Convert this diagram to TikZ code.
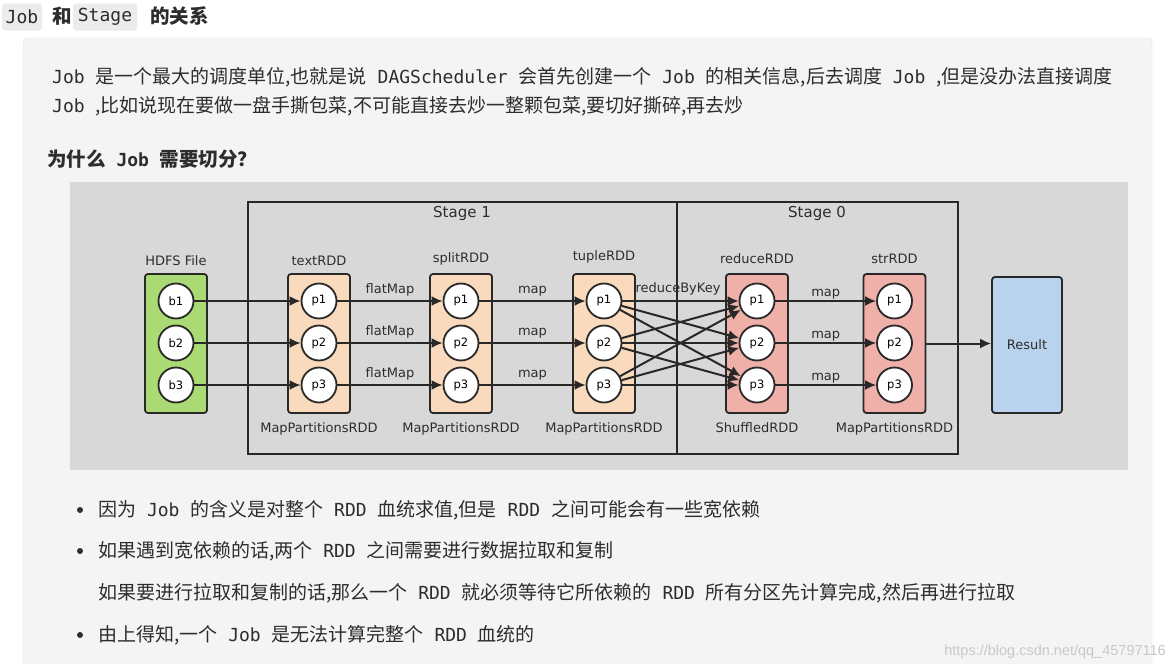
\documentclass[tikz,border=0pt]{standalone}
\usepackage{fontspec}
\usepackage{xcolor}
\usetikzlibrary{arrows.meta,positioning}
\newfontfamily\cjk{Noto Sans CJK SC}
\newfontfamily\codefont{DejaVu Sans Mono}
\newfontfamily\figfont{DejaVu Sans}
\newfontfamily\wmfont{Liberation Sans}
\newcommand\cd[1]{{\codefont\fontsize{18}{18}\selectfont\ #1\ }}
\newcommand\cdhead[1]{{\codefont\fontsize{18}{18}\selectfont #1\ }}
\definecolor{pagegray}{RGB}{244,244,244}
\definecolor{panelline}{RGB}{222,222,222}
\definecolor{chipgray}{RGB}{236,236,236}
\definecolor{textgray}{RGB}{45,45,45}
\definecolor{diagray}{RGB}{216,216,216}
\definecolor{linegray}{RGB}{40,40,40}
\definecolor{hdfsgreen}{RGB}{170,218,116}
\definecolor{mapsalmon}{RGB}{250,218,188}
\definecolor{shufflered}{RGB}{238,176,168}
\definecolor{resultblue}{RGB}{185,210,238}
\definecolor{wmgray}{RGB}{200,200,200}

\begin{document}
\begin{tikzpicture}[x=1pt,y=-1pt,
  txt/.style={anchor=base west,inner sep=0pt,text=textgray,font=\cjk\fontsize{19}{19}\selectfont},
  boldtxt/.style={txt,font=\cjk\bfseries\fontsize{19.5}{19.5}\selectfont},
  chip/.style={fill=chipgray,rounded corners=3pt,inner sep=3pt,minimum height=27pt,font=\codefont\fontsize{18}{18}\selectfont,text=textgray},
  dot/.style={circle,fill=textgray,inner sep=0pt,minimum size=6pt},
  rddbox/.style={draw=linegray,line width=1.8pt,rounded corners=3pt,minimum width=62pt,minimum height=139pt},
  part/.style={circle,draw=linegray,line width=1.8pt,fill=white,minimum size=35pt,inner sep=0pt,font=\figfont\fontsize{11.5}{11.5}\selectfont},
  lbl/.style={text=textgray,font=\figfont\fontsize{13}{13}\selectfont},
  flow/.style={draw=linegray,line width=2pt,-{Latex[length=11pt,width=10pt]}}]
  % page and panel
  \fill[white](0,0)rectangle(1176,664);
  \useasboundingbox(0,0)rectangle(1176,664);
  \draw[panelline,fill=pagegray,rounded corners=4pt](23,38)rectangle(1152,690);
  % title
  \node[chip,minimum width=40pt] (tjob) at (22,17) {Job};
  \node[boldtxt] (tand) at (52,23) {和};
  \node[chip,minimum width=64pt] (tstage) at (105,17) {Stage};
  \node[boldtxt] (trel) at (150,23) {的关系};
  % paragraph
  \node[txt] (para1) at (52,83) {\cdhead{Job}是一个最大的调度单位,也就是说\cd{DAGScheduler}会首先创建一个\cd{Job}的相关信息,后去调度\cd{Job},但是没办法直接调度};
  \node[txt] (para2) at (52,112) {\cdhead{Job},比如说现在要做一盘手撕包菜,不可能直接去炒一整颗包菜,要切好撕碎,再去炒};
  \node[boldtxt] (why) at (47,166) {为什么\cd{Job}需要切分？};

  % diagram
  \fill[diagray](70,182)rectangle(1128,470);
  \draw[linegray,line width=2pt](248,202)rectangle(958,454);
  \draw[linegray,line width=2pt](677,202)--(677,454);
  \node[lbl,font=\figfont\fontsize{15}{15}\selectfont] (stage1) at (462,213) {Stage 1};
  \node[lbl,font=\figfont\fontsize{15}{15}\selectfont] (stage0) at (817,213) {Stage 0};

  \node[rddbox,fill=hdfsgreen] (hdfs) at (176,343.5) {};
  \node[rddbox,fill=mapsalmon] (textbox) at (319,343.5) {};
  \node[rddbox,fill=mapsalmon] (splitbox) at (461,343.5) {};
  \node[rddbox,fill=mapsalmon] (tuplebox) at (604,343.5) {};
  \node[rddbox,fill=shufflered] (reducebox) at (757,343.5) {};
  \node[rddbox,fill=shufflered] (strbox) at (894.5,343.5) {};
  \node[draw=linegray,line width=1.8pt,rounded corners=3pt,fill=resultblue,minimum width=70pt,minimum height=136pt,lbl] (result) at (1027,345) {Result};

  \node[lbl,above=4pt of hdfs] (hdfsname) {HDFS File};
  \node[lbl,above=4pt of textbox] (textname) {textRDD};
  \node[lbl,above=4pt of splitbox] (splitname) {splitRDD};
  \node[lbl,above=6pt of tuplebox] (tuplename) {tupleRDD};
  \node[lbl,above=6pt of reducebox] (reducename) {reduceRDD};
  \node[lbl,above=6pt of strbox] (strname) {strRDD};
  \node[lbl,below=5pt of textbox] (texttype) {MapPartitionsRDD};
  \node[lbl,below=5pt of splitbox] (splittype) {MapPartitionsRDD};
  \node[lbl,below=5pt of tuplebox] (tupletype) {MapPartitionsRDD};
  \node[lbl,below=5pt of reducebox] (reducetype) {ShuffledRDD};
  \node[lbl,below=5pt of strbox] (strtype) {MapPartitionsRDD};

  \foreach \i/\y in {1/301,2/343,3/385}{
    \node[part] (b\i) at (176,\y) {b\i};
    \node[part] (text\i) at (319,\y) {p\i};
    \node[part] (split\i) at (461,\y) {p\i};
    \node[part] (tuple\i) at (604,\y) {p\i};
    \node[part] (reduce\i) at (757,\y) {p\i};
    \node[part] (str\i) at (894.5,\y) {p\i};
  }
  \foreach \i in {1,2,3}{
    \draw[flow] (b\i) -- (text\i);
    \draw[flow] (text\i) -- node[lbl,above] {flatMap} (split\i);
    \draw[flow] (split\i) -- node[lbl,above] {map} (tuple\i);
    \foreach \j in {1,2,3} \draw[flow] (tuple\i) -- (reduce\j);
    \draw[flow] (reduce\i) -- node[lbl,above,inner sep=1pt] {map} (str\i);
  }
  \node[lbl] (shuffle) at (678,289) {reduceByKey};
  \draw[flow] (strbox.east) -- (strbox.east -| result.west);

  % bullets
  \node[dot] (d1) at (80,510) {};
  \node[dot] (d2) at (80,551) {};
  \node[dot] (d3) at (80,635) {};
  \node[txt] (item1) at (98,516) {因为\cd{Job}的含义是对整个\cd{RDD}血统求值,但是\cd{RDD}之间可能会有一些宽依赖};
  \node[txt] (item2) at (98,557) {如果遇到宽依赖的话,两个\cd{RDD}之间需要进行数据拉取和复制};
  \node[txt] (item2b) at (98,599) {如果要进行拉取和复制的话,那么一个\cd{RDD}就必须等待它所依赖的\cd{RDD}所有分区先计算完成,然后再进行拉取};
  \node[txt] (item3) at (98,641) {由上得知,一个\cd{Job}是无法计算完整个\cd{RDD}血统的};
  \node[anchor=base east,inner sep=0pt,text=wmgray,font=\wmfont\fontsize{14.5}{14.5}\selectfont] (wm) at (1166,655) {https://blog.csdn.net/qq\_45797116};
\end{tikzpicture}
\end{document}
